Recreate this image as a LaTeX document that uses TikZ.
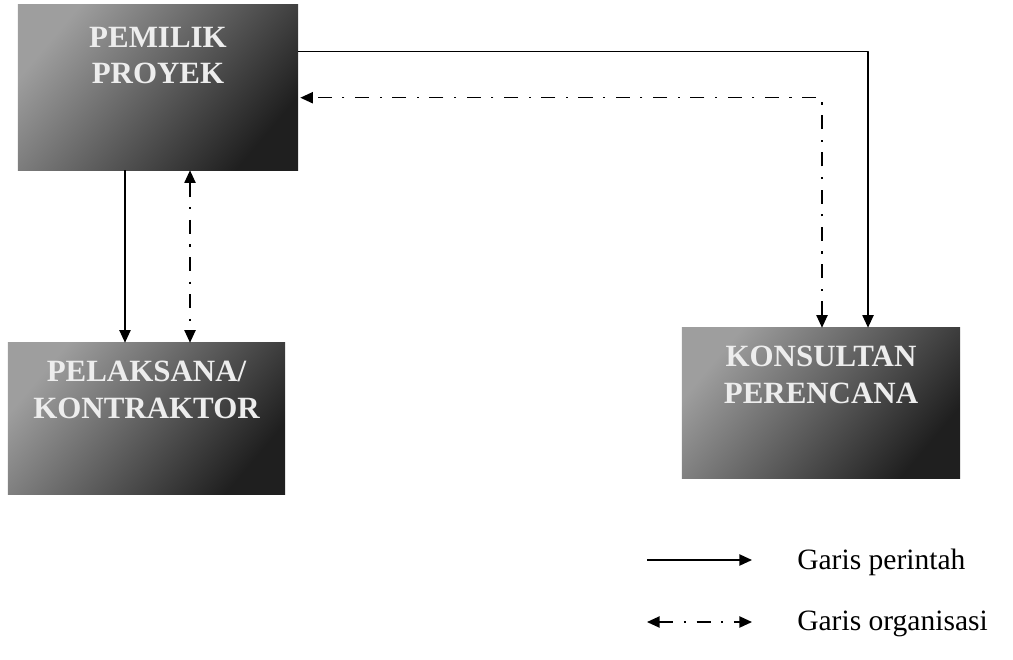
\documentclass[tikz,border=0pt]{standalone}
\usepackage{fontspec}
\setmainfont{Liberation Serif}
\usetikzlibrary{arrows.meta,calc}
\tikzset{
  kotak/.style={rectangle, inner sep=0pt, top color=black!38, bottom color=black!88, shading angle=50},
  judul/.style={anchor=north, inner sep=0pt, align=center, text=white!93!black,
    font=\fontsize{22}{26}\selectfont\bfseries},
  perintah/.style={line width=1.1pt, -{Triangle[length=9pt,width=8pt]}},
  organisasi/.style={line width=1.1pt, dash pattern=on 10pt off 7.5pt on 1.5pt off 7.5pt,
    {Triangle[length=9pt,width=8pt]}-{Triangle[length=9pt,width=8pt]}},
  ket/.style={anchor=west, inner sep=0pt, font=\fontsize{21}{25}\selectfont}
}
\begin{document}
\begin{tikzpicture}[x=0.025cm, y=-0.025cm, line join=round]
\useasboundingbox (0,0) rectangle (1013,659);
% kotak-kotak
\node[kotak, minimum width=7cm, minimum height=4.125cm] (pemilik) at (158,87.5) {};
\node[kotak, minimum width=6.925cm, minimum height=3.775cm] (pelaksana) at (146.5,418.5) {};
\node[kotak, minimum width=6.95cm, minimum height=3.75cm] (konsultan) at (821,403) {};
\node[judul] (tpemilik) at ([yshift=-0.55cm]pemilik.north) {PEMILIK\\PROYEK};
\node[judul] (tpelaksana) at ([yshift=-0.45cm]pelaksana.north) {PELAKSANA/\\KONTRAKTOR};
\node[judul] (tkonsultan) at ([yshift=-0.45cm]konsultan.north) {KONSULTAN\\PERENCANA};
% garis
\draw[perintah] ([yshift=-1.175cm]pemilik.north east) -| ([xshift=1.175cm]konsultan.north);
\draw[organisasi] ([xshift=0.025cm]konsultan.north) |- ([xshift=0.05cm,yshift=-2.325cm]pemilik.north east);
\draw[perintah] ([xshift=-0.825cm]pemilik.south) -- ([xshift=-0.825cm]pemilik.south |- pelaksana.north);
\draw[organisasi] ([xshift=0.8cm]pemilik.south) -- ([xshift=0.8cm]pemilik.south |- pelaksana.north);
% keterangan
\coordinate (p1) at (647,560); \coordinate (p2) at (752,560);
\coordinate (o1) at (647,622); \coordinate (o2) at (752,622);
\draw[perintah] (p1) -- (p2);
\draw[organisasi] (o1) -- (o2);
\node[ket] (kp) at (797,562) {Garis perintah};
\node[ket] (ko) at (797,624) {Garis organisasi};
\end{tikzpicture}
\end{document}
